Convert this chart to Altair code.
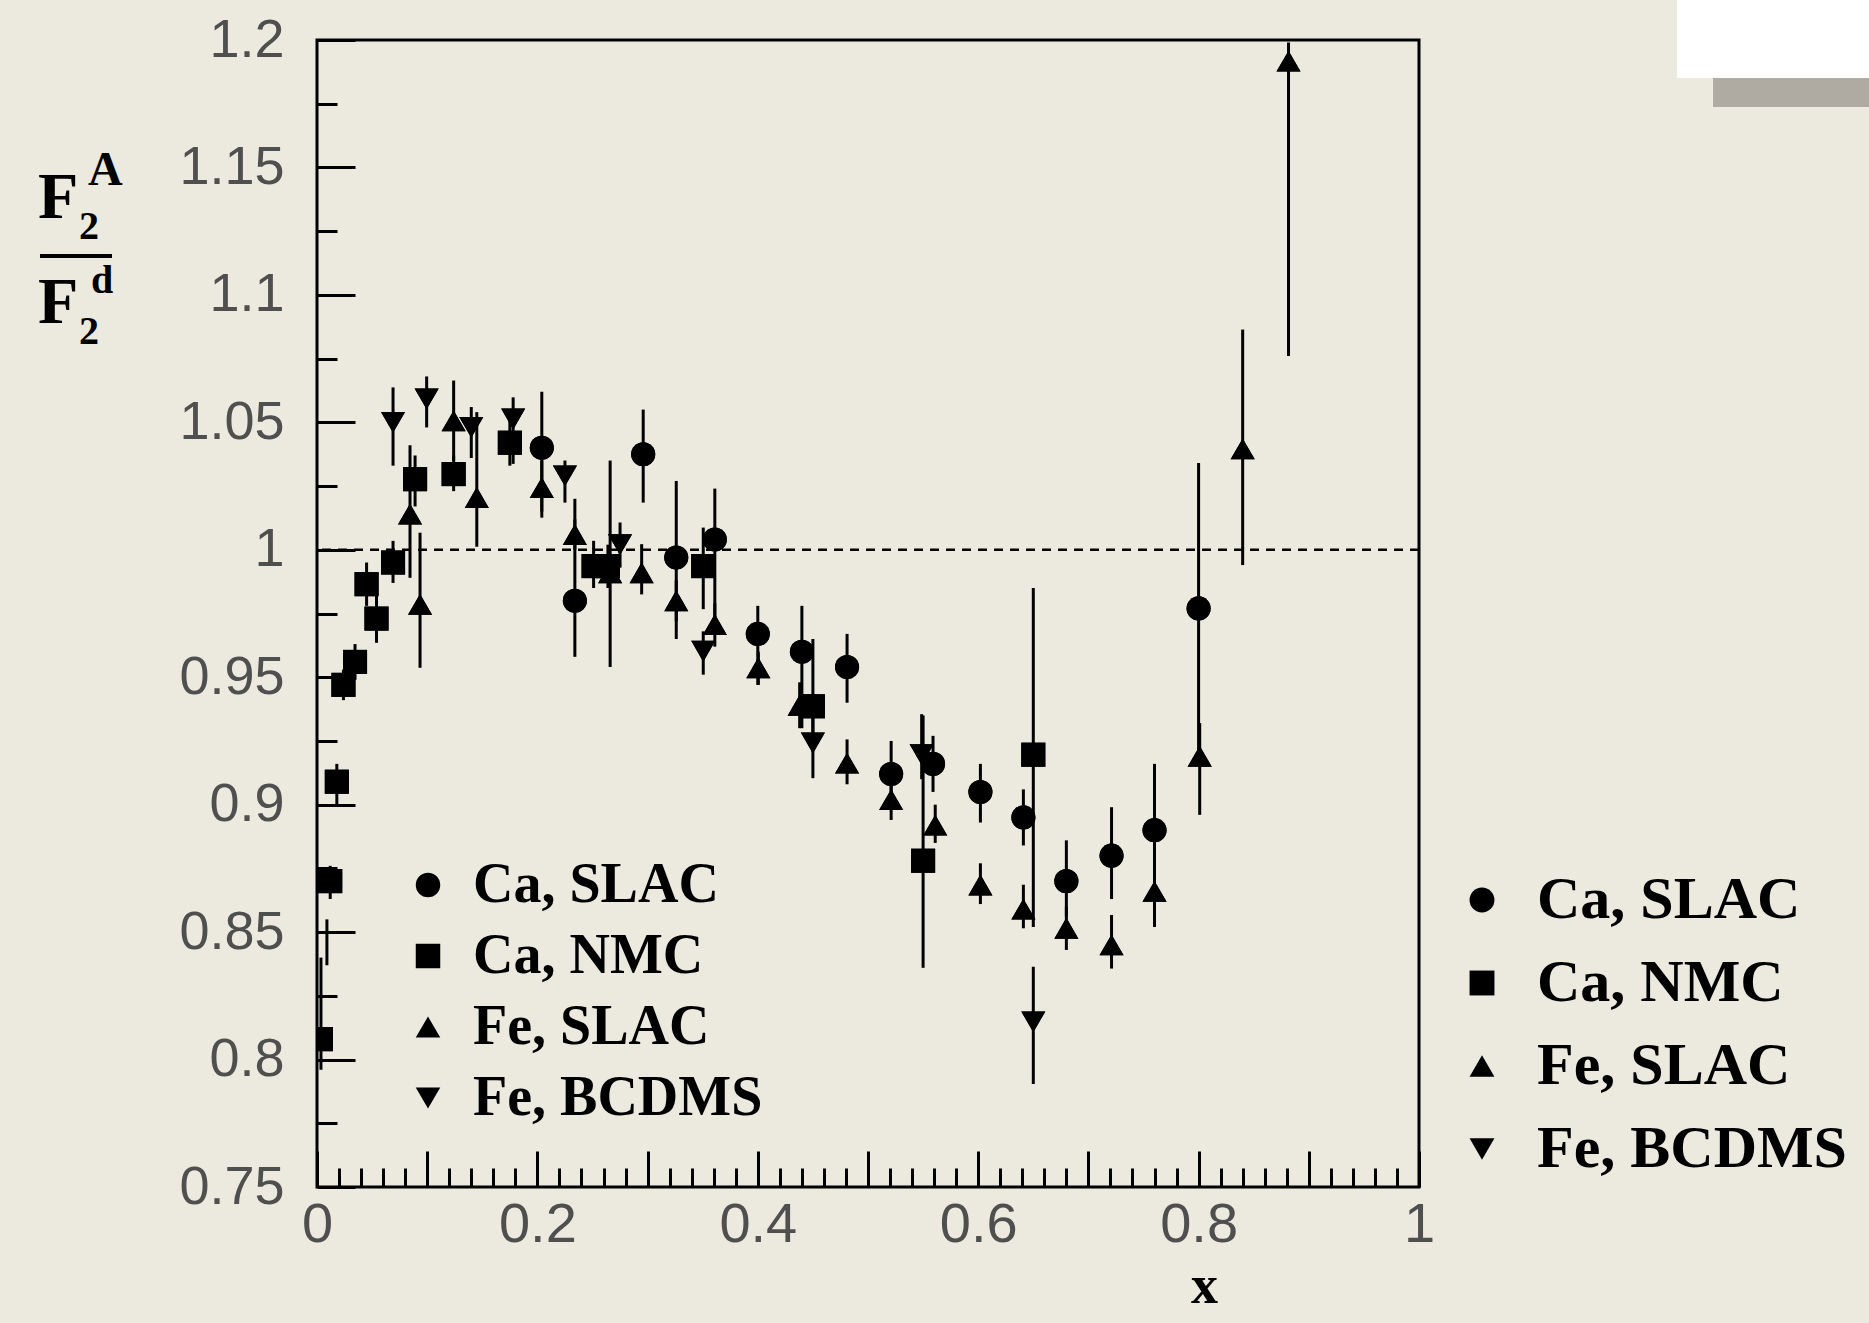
import altair as alt
import pandas as pd

# ---------------- data ----------------
series_order = ["Ca, SLAC", "Ca, NMC", "Fe, SLAC", "Fe, BCDMS"]
shape_range = ["circle", "square", "triangle-up", "triangle-down"]

ca_slac_x = [0.204, 0.234, 0.296, 0.326, 0.361, 0.400, 0.440, 0.481, 0.521, 0.559, 0.602, 0.641, 0.680, 0.721, 0.760, 0.800]
ca_slac_y = [1.040, 0.980, 1.0375, 0.997, 1.004, 0.967, 0.960, 0.954, 0.912, 0.916, 0.905, 0.895, 0.870, 0.880, 0.890, 0.977]
ca_slac_lo = [1.015, 0.958, 1.0185, 0.965, 0.969, 0.947, 0.930, 0.940, 0.900, 0.905, 0.893, 0.884, 0.856, 0.863, 0.852, 0.920]
ca_slac_hi = [1.062, 1.020, 1.055, 1.027, 1.024, 0.978, 0.978, 0.967, 0.925, 0.927, 0.916, 0.906, 0.886, 0.899, 0.916, 1.034]

ca_nmc_x = [0.0036, 0.012, 0.018, 0.024, 0.0345, 0.045, 0.054, 0.069, 0.089, 0.124, 0.175, 0.251, 0.264, 0.3505, 0.450, 0.550, 0.650]
ca_nmc_y = [0.808, 0.870, 0.909, 0.947, 0.956, 0.9865, 0.973, 0.995, 1.0277, 1.0297, 1.042, 0.9936, 0.9936, 0.9936, 0.9386, 0.878, 0.9196]
ca_nmc_lo = [0.796, 0.863, 0.900, 0.941, 0.949, 0.978, 0.9635, 0.987, 1.017, 1.023, 1.033, 0.985, 0.985, 0.9767, 0.928, 0.836, 0.852]
ca_nmc_hi = [0.840, 0.876, 0.916, 0.953, 0.963, 0.995, 0.982, 1.0035, 1.037, 1.037, 1.052, 1.0035, 1.002, 1.0087, 0.965, 0.935, 0.985]

fe_slac_x = [0.0844, 0.0935, 0.124, 0.145, 0.204, 0.234, 0.266, 0.2946, 0.326, 0.361, 0.4005, 0.438, 0.481, 0.521, 0.561, 0.602, 0.641, 0.680, 0.721, 0.760, 0.801, 0.840, 0.8816]
fe_slac_y = [1.014, 0.9786, 1.0506, 1.0205, 1.0244, 1.006, 0.991, 0.991, 0.980, 0.9707, 0.9537, 0.939, 0.9163, 0.902, 0.892, 0.8685, 0.859, 0.8515, 0.845, 0.866, 0.919, 1.0396, 1.1917]
fe_slac_lo = [0.989, 0.9537, 1.035, 1.0012, 1.0126, 1.000, 0.954, 0.9825, 0.972, 0.962, 0.947, 0.930, 0.908, 0.894, 0.885, 0.861, 0.8515, 0.843, 0.8357, 0.852, 0.896, 0.994, 1.076]
fe_slac_hi = [1.041, 1.0067, 1.0664, 1.054, 1.035, 1.012, 1.035, 1.0022, 0.988, 0.979, 0.960, 0.948, 0.9256, 0.910, 0.900, 0.877, 0.8686, 0.860, 0.8567, 0.880, 0.932, 1.0864, 1.199]

fe_bcdms_x = [0.069, 0.0995, 0.140, 0.178, 0.225, 0.275, 0.3505, 0.450, 0.5487, 0.650]
fe_bcdms_y = [1.050, 1.0592, 1.048, 1.0513, 1.029, 1.002, 0.9602, 0.9242, 0.9196, 0.8148]
fe_bcdms_lo = [1.033, 1.048, 1.036, 1.0337, 1.0185, 0.993, 0.951, 0.9104, 0.910, 0.7904]
fe_bcdms_hi = [1.0637, 1.068, 1.056, 1.0598, 1.035, 1.0107, 0.968, 0.9366, 0.9355, 0.8364]

# an error bar whose marker is hidden by the axis
orphan_x = [0.009]
orphan_lo = [0.837]
orphan_hi = [0.855]

reference_y = [1.0]

major_x = [0.0, 0.1, 0.2, 0.3, 0.4, 0.5, 0.6, 0.7, 0.8, 0.9, 1.0]
minor_x = [round(i * 0.02, 2) for i in range(51) if i % 5 != 0]
major_y = [0.75, 0.8, 0.85, 0.9, 0.95, 1.0, 1.05, 1.1, 1.15, 1.2]
minor_y = [0.775, 0.825, 0.875, 0.925, 0.975, 1.025, 1.075, 1.125, 1.175]

# ---------------- tables ----------------
def table(name, xs, ys, lo, hi):
    return pd.DataFrame({"series": name, "x": xs, "y": ys, "lo": lo, "hi": hi})

df = pd.concat([
    table("Ca, SLAC", ca_slac_x, ca_slac_y, ca_slac_lo, ca_slac_hi),
    table("Ca, NMC", ca_nmc_x, ca_nmc_y, ca_nmc_lo, ca_nmc_hi),
    table("Fe, SLAC", fe_slac_x, fe_slac_y, fe_slac_lo, fe_slac_hi),
    table("Fe, BCDMS", fe_bcdms_x, fe_bcdms_y, fe_bcdms_lo, fe_bcdms_hi),
], ignore_index=True)
bars = pd.concat([df[["x", "lo", "hi"]],
                  pd.DataFrame({"x": orphan_x, "lo": orphan_lo, "hi": orphan_hi})],
                 ignore_index=True)
ref = pd.DataFrame({"y": reference_y})
one = pd.DataFrame({"k": [0]})

W, H = 1102, 1147
xscale = alt.Scale(domain=[0, 1], nice=False, zero=False)
yscale = alt.Scale(domain=[0.75, 1.2], nice=False, zero=False)
shape_scale = alt.Scale(domain=series_order, range=shape_range)

LABEL_GREY = "#4f4f4f"

x_major_axis = alt.Axis(
    orient="bottom", values=major_x, tickSize=36, offset=-36, domain=False, grid=False,
    tickColor="black", tickWidth=3,
    labelExpr="(round(datum.value*10) % 2 == 0) ? format(datum.value, '~g') : ''",
    labelFont="Liberation Sans", labelFontSize=56, labelColor=LABEL_GREY,
    labelPadding=10, labelFlush=False, labelOverlap=False,
    title="x", titleFont="Liberation Serif", titleFontWeight="bold", titleFontSize=54,
    titleColor="black", titleX=887, titleY=151, titleBaseline="alphabetic", titleAlign="center",
    titleAnchor="start", titleAngle=0,
)
y_major_axis = alt.Axis(
    orient="left", values=major_y, tickSize=38, offset=-38, domain=False, grid=False,
    tickColor="black", tickWidth=3,
    labelExpr="format(datum.value, '~g')",
    labelFont="Liberation Sans", labelFontSize=54, labelColor=LABEL_GREY,
    labelPadding=33, labelFlush=False, labelOverlap=False, title=None,
)
x_minor_axis = alt.Axis(orient="bottom", values=minor_x, tickSize=19, offset=-19, domain=False,
                        grid=False, labels=False, tickColor="black", tickWidth=3, title=None)
y_minor_axis = alt.Axis(orient="left", values=minor_y, tickSize=20, offset=-20, domain=False,
                        grid=False, labels=False, tickColor="black", tickWidth=3, title=None)

errbars = alt.Chart(bars).mark_rule(color="black", strokeWidth=3, clip=True).encode(
    x=alt.X("x:Q", scale=xscale, axis=x_major_axis),
    y=alt.Y("lo:Q", scale=yscale, axis=y_major_axis),
    y2="hi:Q",
)

dashed = alt.Chart(ref).mark_rule(color="black", strokeWidth=2.5, strokeDash=[9, 7]).encode(
    y=alt.Y("y:Q", scale=yscale, axis=None)
)

legend_common = dict(
    title=None, labelFont="Liberation Serif", labelFontWeight="bold", labelColor="black",
    labelLimit=0, symbolFillColor="black", symbolStrokeColor="black", symbolStrokeWidth=0,
    symbolOpacity=1, padding=0, offset=0, orient="none", direction="vertical",
)

pts_inside = alt.Chart(df).mark_point(filled=True, size=580, opacity=1, color="black", clip=True).encode(
    x=alt.X("x:Q", scale=xscale, axis=x_minor_axis),
    y=alt.Y("y:Q", scale=yscale, axis=y_minor_axis),
    shape=alt.Shape("series:N", scale=shape_scale,
                    legend=alt.Legend(legendX=83, legendY=817, labelFontSize=56, symbolSize=600,
                                      rowPadding=15, labelOffset=17, **legend_common)),
)
pts_right = alt.Chart(df).mark_point(filled=True, size=580, opacity=1, color="black", clip=True).encode(
    x=alt.X("x:Q", scale=xscale, axis=None),
    y=alt.Y("y:Q", scale=yscale, axis=None),
    shape=alt.Shape("series:N", scale=shape_scale,
                    legend=alt.Legend(legendX=1135, legendY=830, labelFontSize=60, symbolSize=620,
                                      rowPadding=23, labelOffset=25, **legend_common)),
)


def txt(s, px, py, size):
    return alt.Chart(one).mark_text(
        text=s, font="Liberation Serif", fontWeight="bold", fontSize=size,
        align="left", baseline="alphabetic", color="black",
    ).encode(x=alt.value(px), y=alt.value(py))


frac_bar = alt.Chart(one).mark_rule(color="black", strokeWidth=4).encode(
    x=alt.value(-277), x2=alt.value(-205), y=alt.value(216))

ytitle = [
    txt("F", -279, 178, 66), txt("A", -229, 145, 48), txt("2", -238, 199, 40),
    txt("F", -279, 283, 66), txt("d", -226, 253, 40), txt("2", -238, 304, 40),
]

shadow = alt.Chart(one).mark_rect(color="#8f8b83", opacity=0.65).encode(
    x=alt.value(1396), x2=alt.value(1552), y=alt.value(32), y2=alt.value(67))
paper = alt.Chart(one).mark_rect(color="white").encode(
    x=alt.value(1360), x2=alt.value(1552), y=alt.value(-40), y2=alt.value(38))

chart = alt.layer(
    dashed, errbars, pts_inside, pts_right, frac_bar, *ytitle, shadow, paper
).resolve_scale(shape="independent").resolve_axis(x="independent", y="independent").properties(
    width=W, height=H,
    autosize=alt.AutoSizeParams(type="none"),
    padding={"left": 317, "top": 40, "right": 450, "bottom": 136},
    background="#ECE9DF",
).configure_view(stroke="black", strokeWidth=3)

chart.save("out.html", embed_options={"renderer": "svg", "actions": False})
